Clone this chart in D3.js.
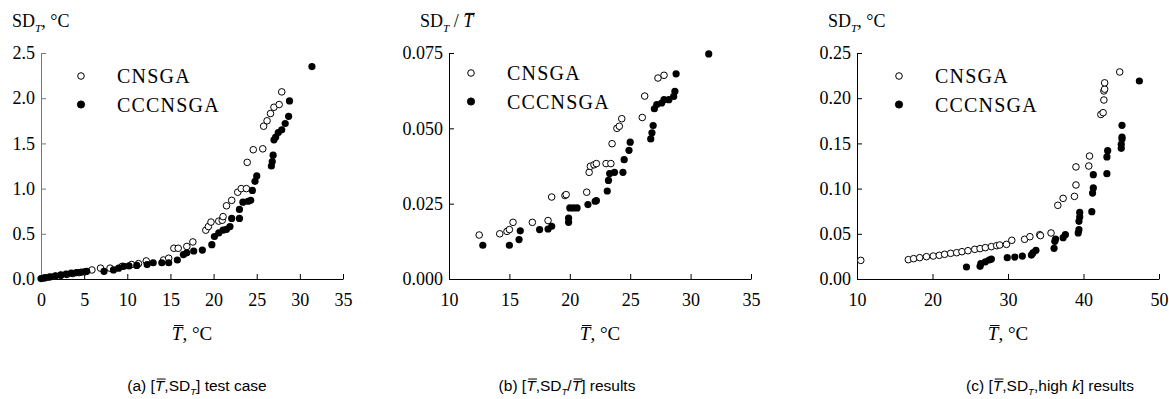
<!DOCTYPE html>
<html>
<head>
<meta charset="utf-8">
<script src="https://cdn.jsdelivr.net/npm/d3@7"></script>
<style>
  body { margin: 0; background: #fff; }
  svg { display: block; }
</style>
</head>
<body>
<svg id="chart" width="1169" height="399"></svg>
<script>
// ---- data ----
// (a) test case: mean temperature vs SD_T
const aMeanCnsga = [0.3, 0.9, 1.6, 2.3, 3.0, 3.7, 4.4, 5.1, 5.9, 6.9, 8.0, 9.4, 10.5, 11.3, 12.2, 14.2, 14.8, 15.4, 15.9, 16.9, 17.6, 19.1, 19.4, 19.7, 20.6, 21.0, 21.1, 21.5, 22.1, 22.8, 23.2, 23.8, 23.9, 24.6, 25.7, 25.8, 26.2, 26.6, 27.0, 27.6, 27.9];
const aSdCnsga   = [0.01, 0.02, 0.03, 0.04, 0.05, 0.06, 0.07, 0.08, 0.10, 0.12, 0.12, 0.14, 0.16, 0.17, 0.20, 0.21, 0.23, 0.34, 0.34, 0.36, 0.41, 0.54, 0.58, 0.63, 0.64, 0.65, 0.69, 0.81, 0.87, 0.96, 1.00, 1.00, 1.29, 1.43, 1.44, 1.69, 1.75, 1.83, 1.90, 1.93, 2.07];
const aMeanCcc   = [0.0, 0.5, 1.1, 1.7, 2.3, 2.9, 3.5, 4.1, 4.7, 5.3, 7.3, 8.4, 9.0, 9.6, 10.2, 11.1, 12.3, 13.0, 14.0, 14.8, 15.8, 16.5, 16.9, 17.7, 18.7, 19.8, 20.1, 20.6, 21.1, 21.5, 21.9, 22.1, 23.0, 23.0, 23.4, 24.0, 24.3, 24.5, 24.8, 25.0, 26.7, 26.8, 26.9, 27.0, 27.2, 27.5, 27.9, 28.3, 28.7, 28.8, 31.4];
const aSdCcc     = [0.005, 0.015, 0.025, 0.035, 0.045, 0.055, 0.065, 0.07, 0.075, 0.085, 0.085, 0.10, 0.12, 0.14, 0.145, 0.15, 0.16, 0.18, 0.18, 0.18, 0.21, 0.27, 0.29, 0.31, 0.32, 0.38, 0.47, 0.51, 0.54, 0.55, 0.58, 0.67, 0.67, 0.77, 0.85, 0.86, 0.87, 0.98, 1.08, 1.14, 1.25, 1.30, 1.37, 1.54, 1.57, 1.62, 1.65, 1.72, 1.80, 1.97, 2.35];

// (b) mean temperature vs SD_T / mean
const bMeanCnsga = [12.5, 14.2, 14.8, 15.0, 15.3, 16.9, 18.2, 18.5, 19.6, 19.7, 21.4, 21.6, 21.7, 22.0, 22.2, 23.0, 23.4, 23.5, 23.9, 24.1, 24.3, 26.0, 26.2, 27.3, 27.8];
const bRelCnsga  = [0.0146, 0.0150, 0.0158, 0.0164, 0.0188, 0.0188, 0.0194, 0.0272, 0.0277, 0.0280, 0.0288, 0.0354, 0.0374, 0.0379, 0.0383, 0.0383, 0.0383, 0.0449, 0.0500, 0.0507, 0.0532, 0.0536, 0.0607, 0.0667, 0.0676];
const bMeanCcc   = [12.8, 15.0, 15.8, 15.9, 17.5, 18.2, 18.5, 19.9, 19.9, 20.0, 20.3, 20.6, 21.5, 22.1, 22.2, 23.1, 23.2, 23.3, 23.7, 24.4, 24.5, 24.9, 25.0, 26.7, 26.8, 26.9, 27.0, 27.2, 27.6, 27.8, 28.2, 28.6, 28.7, 28.8, 31.5];
const bRelCcc    = [0.0112, 0.0112, 0.0131, 0.0160, 0.0164, 0.0166, 0.0175, 0.0188, 0.0202, 0.0236, 0.0236, 0.0236, 0.0247, 0.0258, 0.0260, 0.0292, 0.0327, 0.0350, 0.0354, 0.0354, 0.0396, 0.0427, 0.0454, 0.0465, 0.0485, 0.0509, 0.0565, 0.0579, 0.0584, 0.0595, 0.0595, 0.0606, 0.0623, 0.0681, 0.0747];

// (c) high k results
const cMeanCnsga = [10.5, 16.8, 17.5, 18.3, 19.2, 20.1, 20.9, 21.6, 22.4, 23.2, 23.9, 24.7, 25.6, 26.3, 27.0, 27.8, 28.5, 28.9, 29.8, 30.5, 32.2, 32.9, 34.2, 34.3, 35.7, 36.6, 37.3, 38.8, 39.0, 39.0, 40.7, 40.8, 42.3, 42.6, 42.7, 42.7, 42.8, 42.8, 44.8];
const cSdCnsga   = [0.0206, 0.0214, 0.0225, 0.0236, 0.0247, 0.0254, 0.0262, 0.0273, 0.0284, 0.0291, 0.0302, 0.0313, 0.0328, 0.0336, 0.0347, 0.0358, 0.0369, 0.0376, 0.0383, 0.0428, 0.0439, 0.0468, 0.0490, 0.0480, 0.0509, 0.0815, 0.0892, 0.0914, 0.104, 0.124, 0.125, 0.136, 0.182, 0.184, 0.198, 0.208, 0.210, 0.217, 0.229];
const cMeanCcc   = [24.5, 26.3, 26.4, 27.0, 27.5, 27.8, 29.9, 30.9, 31.9, 33.1, 33.3, 33.7, 36.1, 36.2, 36.3, 37.3, 37.6, 39.3, 39.4, 39.4, 39.5, 39.5, 41.1, 41.2, 41.3, 41.3, 43.1, 43.1, 43.2, 45.0, 45.0, 45.1, 45.1, 45.1, 47.4];
const cSdCcc     = [0.0133, 0.014, 0.017, 0.019, 0.021, 0.022, 0.0236, 0.0243, 0.0254, 0.0265, 0.0288, 0.0317, 0.0339, 0.0417, 0.0442, 0.0457, 0.049, 0.0509, 0.0546, 0.0638, 0.0686, 0.0737, 0.0745, 0.0951, 0.1007, 0.1154, 0.1165, 0.135, 0.142, 0.1445, 0.149, 0.155, 0.157, 0.170, 0.219];

const seriesNames = ['CNSGA', 'CCCNSGA'];
const xTicksA = [0, 5, 10, 15, 20, 25, 30, 35];
const yTicksA = [0, 0.5, 1.0, 1.5, 2.0, 2.5];
const xTicksB = [10, 15, 20, 25, 30, 35];
const yTicksB = [0, 0.025, 0.05, 0.075];
const xTicksC = [10, 20, 30, 40, 50];
const yTicksC = [0, 0.05, 0.10, 0.15, 0.20, 0.25];

const svg = d3.select('#chart');
const serif = '"Liberation Serif", "Times New Roman", serif';
const sans = '"Liberation Sans", Arial, sans-serif';

// text made of pieces: {t, it, sub, bar}
function richText(parent, x, y, parts, size, family, anchor) {
  const t = parent.append('text')
    .attr('x', x).attr('y', y)
    .attr('text-anchor', anchor || 'start')
    .style('font-family', family)
    .style('font-size', size + 'px')
    .attr('fill', '#000');
  const bars = [];
  let shifted = false;
  parts.forEach(p => {
    const ts = t.append('tspan').text(p.t);
    if (p.it) ts.style('font-style', 'italic');
    if (p.sub) {
      ts.attr('dy', size * 0.28).style('font-size', (size * 0.62) + 'px');
      shifted = true;
    } else if (shifted) {
      ts.attr('dy', -size * 0.28);
      shifted = false;
    }
    if (p.bar) bars.push(ts);
  });
  bars.forEach(ts => {
    const b = ts.node().getBBox();
    const yb = b.y + b.height * 0.12;
    parent.append('line')
      .attr('x1', b.x + b.width * 0.18).attr('x2', b.x + b.width * 0.98)
      .attr('y1', yb).attr('y2', yb)
      .attr('stroke', '#000').attr('stroke-width', 1);
  });
  return t;
}

const plotTop = 53, plotBottom = 279, plotW = 302;

function panel(cfg) {
  const g = svg.append('g');
  const x = d3.scaleLinear().domain(cfg.xDomain).range([cfg.left, cfg.left + plotW]);
  const y = d3.scaleLinear().domain(cfg.yDomain).range([plotBottom, plotTop]);

  const xAxis = g.append('g')
    .attr('transform', `translate(0,${plotBottom})`)
    .call(d3.axisBottom(x).tickValues(cfg.xTicks).tickSizeInner(-5).tickSizeOuter(0).tickFormat(d3.format('d')));
  xAxis.select('.domain').attr('stroke', '#000');
  xAxis.selectAll('.tick line').attr('stroke', '#000');
  xAxis.selectAll('.tick text')
    .attr('y', 14)
    .style('font-family', serif).style('font-size', '18px').attr('fill', '#000');

  const yAxis = g.append('g')
    .attr('transform', `translate(${cfg.left},0)`)
    .call(d3.axisLeft(y).tickValues(cfg.yTicks).tickSizeInner(-5).tickSizeOuter(0).tickFormat(d3.format(cfg.yFmt)));
  yAxis.select('.domain').attr('stroke', cfg.yAxisColor);
  yAxis.selectAll('.tick line').attr('stroke', cfg.yAxisColor);
  yAxis.selectAll('.tick text')
    .attr('x', -6)
    .style('font-family', serif).style('font-size', '18px').attr('fill', '#000');

  // markers: hollow first, solid on top
  const open = d3.zip(cfg.xOpen, cfg.yOpen);
  const solid = d3.zip(cfg.xSolid, cfg.ySolid);
  g.append('g').selectAll('circle').data(open).join('circle')
    .attr('cx', d => x(d[0])).attr('cy', d => y(d[1])).attr('r', 3.3)
    .attr('fill', '#fff').attr('stroke', '#000').attr('stroke-width', 1);
  g.append('g').selectAll('circle').data(solid).join('circle')
    .attr('cx', d => x(d[0])).attr('cy', d => y(d[1])).attr('r', 3.6)
    .attr('fill', '#000');

  // legend
  const lg = g.append('g');
  seriesNames.forEach((name, i) => {
    const cy = cfg.legY + i * 28.5;
    lg.append('circle')
      .attr('cx', cfg.legX).attr('cy', cy).attr('r', i === 0 ? 3.3 : 3.6)
      .attr('fill', i === 0 ? '#fff' : '#000')
      .attr('stroke', '#000').attr('stroke-width', 1);
    lg.append('text')
      .attr('x', cfg.legX + 36).attr('y', cy + 7)
      .style('font-family', serif).style('font-size', '20px')
      .style('letter-spacing', '1.2px')
      .attr('fill', '#000')
      .text(name);
  });

  // y title
  richText(g, cfg.left - 29, 27, cfg.yTitle, 18, serif, 'start');
  // x title
  richText(g, cfg.left + plotW / 2, 340, [{t: 'T', it: true, bar: true}, {t: ',  \u00B0C'}], 19, serif, 'middle');
  // caption
  richText(g, cfg.capX, 391, cfg.caption, 15.5, sans, 'middle');
}

panel({
  left: 41, xDomain: [0, 35], yDomain: [0, 2.5], xTicks: xTicksA, yTicks: yTicksA, yFmt: '.1f',
  yAxisColor: '#777',
  xOpen: aMeanCnsga, yOpen: aSdCnsga, xSolid: aMeanCcc, ySolid: aSdCcc,
  legX: 81, legY: 76,
  yTitle: [{t: 'SD'}, {t: 'T', it: true, sub: true}, {t: ',  \u00B0C'}],
  capX: 197,
  caption: [{t: '(a)  ['}, {t: 'T', it: true, bar: true}, {t: ',SD'}, {t: 'T', it: true, sub: true}, {t: ']  test case'}]
});

panel({
  left: 449, xDomain: [10, 35], yDomain: [0, 0.075], xTicks: xTicksB, yTicks: yTicksB, yFmt: '.3f',
  yAxisColor: '#000',
  xOpen: bMeanCnsga, yOpen: bRelCnsga, xSolid: bMeanCcc, ySolid: bRelCcc,
  legX: 471, legY: 73,
  yTitle: [{t: 'SD'}, {t: 'T', it: true, sub: true}, {t: ' / '}, {t: 'T', it: true, bar: true}],
  capX: 567,
  caption: [{t: '(b)  ['}, {t: 'T', it: true, bar: true}, {t: ',SD'}, {t: 'T', it: true, sub: true}, {t: '/'}, {t: 'T', it: true, bar: true}, {t: ']  results'}]
});

panel({
  left: 857, xDomain: [10, 50], yDomain: [0, 0.25], xTicks: xTicksC, yTicks: yTicksC, yFmt: '.2f',
  yAxisColor: '#000',
  xOpen: cMeanCnsga, yOpen: cSdCnsga, xSolid: cMeanCcc, ySolid: cSdCcc,
  legX: 899, legY: 76,
  yTitle: [{t: 'SD'}, {t: 'T', it: true, sub: true}, {t: ',  \u00B0C'}],
  capX: 1050,
  caption: [{t: '(c)  ['}, {t: 'T', it: true, bar: true}, {t: ',SD'}, {t: 'T', it: true, sub: true}, {t: ',high '}, {t: 'k', it: true}, {t: ']  results'}]
});
</script>
</body>
</html>
